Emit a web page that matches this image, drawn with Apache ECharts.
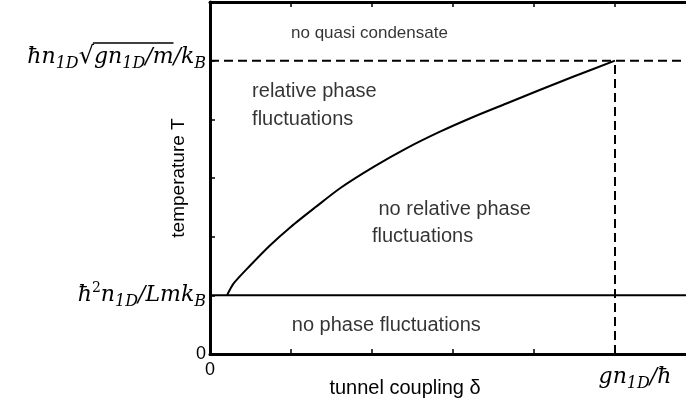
<!DOCTYPE html>
<html>
<head>
<meta charset="utf-8">
<script src="https://cdn.jsdelivr.net/npm/echarts@6/dist/echarts.min.js"></script>
<style>html,body{margin:0;padding:0;background:#fff;overflow:hidden;}#c{width:686px;height:407px;}</style>
</head>
<body>
<div id="c"></div>
<script>
// ---- data ----
const curveX = [0.21, 0.29, 0.49, 0.74, 1.00, 1.30, 1.61, 2.02, 2.43, 2.84, 3.25, 3.66, 4.07, 4.49, 5.0];
const curveY = [1.00, 1.20, 1.50, 1.85, 2.17, 2.50, 2.83, 3.19, 3.51, 3.79, 4.04, 4.27, 4.50, 4.73, 5.0];
const lowerT = 1;        // hbar^2 n / L m kB
const upperT = 5;        // hbar n sqrt(g n/m)/kB
const crossX = 5;        // g n / hbar
const xMin = 0, xMax = 6, yMin = 0, yMax = 6;
const regionText = ['no quasi condensate', 'relative phase', 'fluctuations', 'no relative phase', 'fluctuations', 'no phase fluctuations'];
const regionX = [1.0, 0.52, 0.52, 2.08, 2.0, 1.01];
const regionY = [5.47, 4.47, 3.99, 2.47, 2.0, 0.48];
const xName = 'tunnel coupling δ';
const yName = 'temperature T';

const SANS = 'Liberation Sans, Arial, Helvetica, sans-serif';
const SERIF = '"DejaVu Serif", serif';
const MF = 22, SF = 16, LH = 20;
const topLabelSize = 17, regionSize = 20;

// measure widths for the square-root bar
const mctx = document.createElement('canvas').getContext('2d');
function tw(s, size, italic) {
  mctx.font = (italic ? 'italic ' : '') + size + 'px ' + SERIF;
  return mctx.measureText(s).width;
}
const barW = tw('gn', MF, true) + tw('1D', SF, true) + tw('/m', MF, true) + 1;
const tailW = tw('/k', MF, true) + tw('B', SF, true);

const mathRich = {
  t: {fontFamily: SANS, fontSize: 18, color: '#000'},
  m: {fontFamily: SERIF, fontStyle: 'italic', fontSize: MF, color: '#000', lineHeight: LH},
  u: {fontFamily: SERIF, fontSize: MF + 2, color: '#000', lineHeight: LH},
  s: {fontFamily: SERIF, fontStyle: 'italic', fontSize: SF, color: '#000', verticalAlign: 'bottom', lineHeight: LH, padding: [0, 0, -5, 0]},
  p: {fontFamily: SERIF, fontSize: SF - 2, color: '#000', verticalAlign: 'top', lineHeight: LH, padding: [-4, 0, 0, 0]},
  bar: {width: barW, height: 1.5, lineHeight: 5, backgroundColor: '#000', fontSize: 2, verticalAlign: 'top'},
  sp: {width: tailW, height: 1.5, lineHeight: 5, fontSize: 2, verticalAlign: 'top'},
  gap: {fontSize: 2, lineHeight: 12},
  xgap: {fontSize: 2, lineHeight: 6},
  lsp: {width: 40, fontSize: 2, lineHeight: LH}
};
function xLabel(v) {
  if (v === 0) return '{t|0}';
  if (v === 5) return '{xgap| }\n{lsp| }{m|gn}{s|1D}{m|/ħ}';
  return '';
}
function yLabel(v) {
  if (v === 0) return '{t|0}';
  if (v === 1) return '{m|ħ}{p|2}{m|n}{s|1D}{m|/Lmk}{s|B}';
  if (v === 5) return '{bar| }{sp| }\n{m|ħn}{s|1D}{u|√}{m|gn}{s|1D}{m|/m}{m|/k}{s|B}\n{gap| }';
  return '';
}

const axisLine = {show: true, lineStyle: {color: '#000', width: 3}};
const tick = {show: true, inside: true, length: 5, lineStyle: {color: '#000', width: 1.5}};

const chart = echarts.init(document.getElementById('c'), null, {renderer: 'canvas'});
chart.setOption({
  animation: false,
  backgroundColor: '#fff',
  grid: {left: 210, top: 2, right: -10, bottom: 53, containLabel: false, outerBoundsMode: 'none'},
  xAxis: [
    {type: 'value', position: 'bottom', min: xMin, max: xMax, interval: 1,
     axisLine, axisTick: tick, splitLine: {show: false},
     axisLabel: {margin: 7, formatter: xLabel, rich: mathRich, showMaxLabel: false, hideOverlap: false},
     name: xName, nameLocation: 'middle', nameGap: 24, nameMoveOverlap: false,
     nameTextStyle: {fontFamily: SANS, fontSize: 20, color: '#000', padding: [0, 96, 0, 0]}},
    {type: 'value', position: 'top', min: xMin, max: xMax, interval: 1,
     axisLine, axisTick: tick, splitLine: {show: false}, axisLabel: {show: false}}
  ],
  yAxis: [
    {type: 'value', position: 'left', min: yMin, max: yMax, interval: 1,
     axisLine, axisTick: tick, splitLine: {show: false},
     axisLabel: {margin: 4, formatter: yLabel, rich: mathRich, showMaxLabel: false, hideOverlap: false},
     name: yName, nameLocation: 'middle', nameGap: 22, nameRotate: 90, nameMoveOverlap: false,
     nameTextStyle: {fontFamily: SANS, fontSize: 19, color: '#000'}}
  ],
  series: [
    {type: 'line', data: [[xMin, lowerT], [xMax, lowerT]], symbol: 'none', silent: true,
     lineStyle: {color: '#000', width: 2}},
    {type: 'line', data: [[xMin, upperT], [xMax, upperT]], symbol: 'none', silent: true,
     lineStyle: {color: '#000', width: 2, type: [9, 5]}},
    {type: 'line', data: [[crossX, yMin], [crossX, upperT]], symbol: 'none', silent: true,
     lineStyle: {color: '#000', width: 2, type: [9, 5]}},
    {type: 'line', data: curveX.map((x, i) => [x, curveY[i]]), symbol: 'none', silent: true,
     smooth: 0.25, lineStyle: {color: '#000', width: 2}},
    {type: 'scatter', symbolSize: 0, silent: true,
     data: regionText.map((t, i) => ({value: [regionX[i], regionY[i], t],
       label: {fontSize: i === 0 ? topLabelSize : regionSize}})),
     label: {show: true, position: 'right', distance: 0, formatter: p => p.data.value[2],
             fontFamily: SANS, fontSize: regionSize, color: '#000', verticalAlign: 'middle'}}
  ]
});
</script>
</body>
</html>
